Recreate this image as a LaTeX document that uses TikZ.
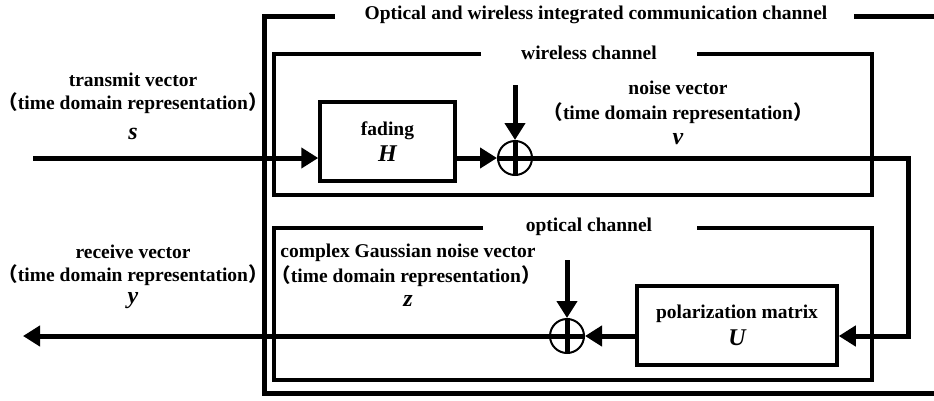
\documentclass[tikz,border=0pt]{standalone}
\usepackage{fontspec}
\setmainfont{Liberation Serif}
\newfontfamily\cjk{Noto Sans CJK SC}
\usetikzlibrary{arrows.meta}
\newcommand\mv[1]{{\fontsize{24}{24}\selectfont\bfseries\itshape #1}}
\newcommand\lpar{{\cjk （}}
\newcommand\rpar{{\cjk ）}}
\begin{document}
\begin{tikzpicture}[x=1pt,y=-1pt,
  font=\fontsize{19.5}{23}\selectfont\bfseries,
  frameline/.style={line width=5pt},
  chanline/.style={line width=4pt},
  blk/.style={draw,line width=3.5pt,rectangle,inner sep=0pt,align=center},
  sig/.style={line width=5pt},
  arr/.style={-{Triangle[length=17pt,width=20pt]}},
  sumnode/.style={circle,draw,line width=2pt,minimum size=34pt,inner sep=0pt},
  lbl/.style={inner sep=0pt,align=center}]
\useasboundingbox (0,0) rectangle (934,400);

% outer frame
\node[lbl] (title) at (596,15) {Optical and wireless integrated communication channel};
\draw[frameline] (335,16) -- (264,16) -- (264,393) -- (934,393);
\draw[frameline] (854,16) -- (934,16);

% wireless channel box
\node[lbl] (wtitle) at (589,53) {wireless channel};
\draw[chanline] (481,54) -- (274,54) -- (274,195) -- (872,195) -- (872,54) -- (697,54);

% optical channel box
\node[lbl] (otitle) at (589,227) {optical channel};
\draw[chanline] (483,228) -- (274,228) -- (274,380) -- (872,380) -- (872,228) -- (697,228);

% blocks
\node[blk,minimum width=135pt,minimum height=79pt] (fad) at (387.5,141.5) {fading\\[3pt]\mv{H}};
\node[blk,minimum width=200pt,minimum height=79pt] (pol) at (737,325.5) {polarization matrix\\[4pt]\mv{U}};

% adders
\node[sumnode] (sum1) at (515,158) {};
\draw[line width=5pt] (sum1.north) -- (sum1.south) (sum1.west) -- (sum1.east);
\node[sumnode] (sum2) at (567,336) {};
\draw[line width=5pt] (sum2.north) -- (sum2.south) (sum2.west) -- (sum2.east);

% coordinates
\coordinate (in) at (33,158);
\coordinate (n1) at (515,85);
\coordinate (c1) at (908,158);
\coordinate (n2) at (567,260);
\coordinate (out) at (23,336);

% connectors
\draw[sig,arr] (in) -- (in -| fad.west);
\draw[sig,arr] (fad.east |- sum1) -- (sum1.west);
\draw[sig,arr] (n1) -- (sum1.north);
\draw[sig,arr] (sum1.east) -- (c1) |- (pol.east |- sum2);
\draw[sig,arr] (pol.west |- sum2) -- (sum2.east);
\draw[sig,arr] (n2) -- (sum2.north);
\draw[sig,arr] (sum2.west) -- (out);

% labels
\node[lbl] (t1) at (133,80) {transmit vector};
\node[lbl] (t2) at (133,103) {\lpar time domain representation\rpar};
\node[lbl] (t3) at (133,134) {\mv{s}};

\node[lbl] (v1) at (678,88) {noise vector};
\node[lbl] (v2) at (678,113) {\lpar time domain representation\rpar};
\node[lbl] (v3) at (678,139) {\mv{v}};

\node[lbl] (r1) at (133,252) {receive vector};
\node[lbl] (r2) at (133,275) {\lpar time domain representation\rpar};
\node[lbl] (r3) at (133,301) {\mv{y}};

\node[lbl] (z1) at (408,253) {complex Gaussian noise vector};
\node[lbl] (z2) at (406,276) {\lpar time domain representation\rpar};
\node[lbl] (z3) at (408,301) {\mv{z}};
\end{tikzpicture}
\end{document}
